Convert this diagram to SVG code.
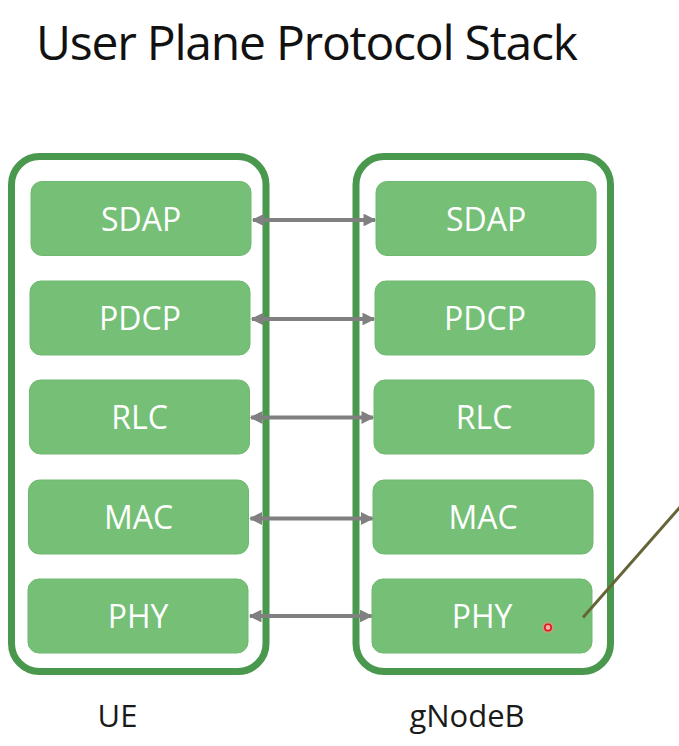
<svg xmlns="http://www.w3.org/2000/svg" width="679" height="746" viewBox="0 0 679 746">
<defs>
<style>
.outer{fill:#ffffff;stroke:#4a984e;stroke-width:7}
.layer{fill:#76bf76;stroke:#6fb86f;stroke-width:1}
.lbl{font-family:"Open Sans","Liberation Sans",sans-serif;font-size:32px;fill:#ffffff;text-anchor:middle}
.cap{font-family:"Open Sans","Liberation Sans",sans-serif;font-size:31px;fill:#1a1a1a;text-anchor:middle}
.title{font-family:"Open Sans","Liberation Sans",sans-serif;font-size:48px;fill:#111111}
.arr{stroke:#808080;stroke-width:4;fill:none;marker-start:url(#ah);marker-end:url(#ah)}
</style>
<marker id="ah" viewBox="0 0 10 10" refX="9" refY="5" markerWidth="3.6" markerHeight="3.2" orient="auto-start-reverse" markerUnits="strokeWidth">
<path d="M0,0 L10,5 L0,10 z" fill="#808080"/>
</marker>
</defs>
<rect width="679" height="746" fill="#ffffff"/>
<text class="title" x="36" y="60" textLength="542">User Plane Protocol Stack</text>

<g id="ue">
<rect class="outer" x="11.5" y="156.5" width="254.5" height="515" rx="28"/>
<text class="cap" x="117.5" y="727">UE</text>
</g>
<g id="gnodeb">
<rect class="outer" x="356" y="156.5" width="254.5" height="515" rx="28"/>
<text class="cap" x="467" y="727">gNodeB</text>
</g>

<g id="ue-sdap"><rect class="layer" x="31" y="181.5" width="220" height="74" rx="11"/><text class="lbl" x="141" y="230.5">SDAP</text></g>
<g id="ue-pdcp"><rect class="layer" x="30" y="281" width="220" height="74" rx="11"/><text class="lbl" x="140" y="330">PDCP</text></g>
<g id="ue-rlc"><rect class="layer" x="29.5" y="380" width="220" height="74" rx="11"/><text class="lbl" x="139.5" y="429">RLC</text></g>
<g id="ue-mac"><rect class="layer" x="28.5" y="480" width="220" height="74" rx="11"/><text class="lbl" x="138.5" y="529">MAC</text></g>
<g id="ue-phy"><rect class="layer" x="28" y="579" width="220" height="74" rx="11"/><text class="lbl" x="138" y="628">PHY</text></g>

<g id="gnb-sdap"><rect class="layer" x="376" y="181.5" width="220" height="74" rx="11"/><text class="lbl" x="486" y="230.5">SDAP</text></g>
<g id="gnb-pdcp"><rect class="layer" x="375" y="281" width="220" height="74" rx="11"/><text class="lbl" x="485" y="330">PDCP</text></g>
<g id="gnb-rlc"><rect class="layer" x="374" y="380" width="220" height="74" rx="11"/><text class="lbl" x="484" y="429">RLC</text></g>
<g id="gnb-mac"><rect class="layer" x="373" y="480" width="220" height="74" rx="11"/><text class="lbl" x="483" y="529">MAC</text></g>
<g id="gnb-phy"><rect class="layer" x="372" y="579" width="220" height="74" rx="11"/><text class="lbl" x="482" y="628">PHY</text></g>

<g id="connectors">
<line class="arr" x1="253" y1="220" x2="375" y2="220"/>
<line class="arr" x1="252" y1="319" x2="374" y2="319"/>
<line class="arr" x1="251" y1="417.5" x2="373" y2="417.5"/>
<line class="arr" x1="250.5" y1="518.5" x2="372.5" y2="518.5"/>
<line class="arr" x1="250" y1="616" x2="371.5" y2="616"/>
<line x1="583" y1="617.5" x2="681" y2="506" stroke="#656538" stroke-width="3"/>
</g>
<g id="pointer">
<circle cx="548" cy="627.5" r="6" fill="#f28a8a" opacity="0.55"/>
<circle cx="548" cy="627.5" r="3.2" fill="#f5b0b0" stroke="#e01818" stroke-width="1.6"/>
</g>
</svg>
